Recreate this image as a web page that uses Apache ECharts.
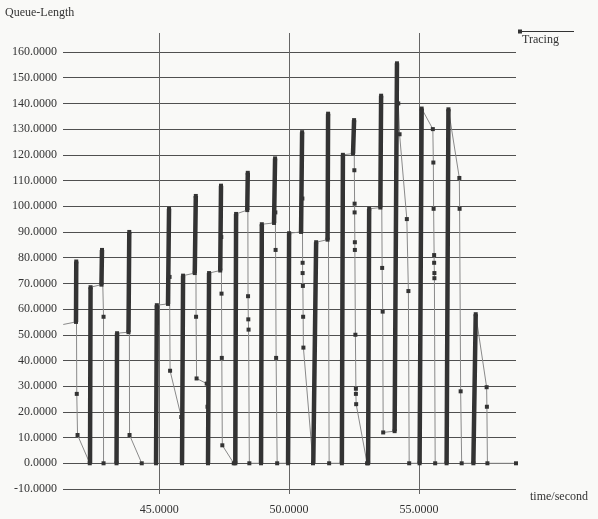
<!DOCTYPE html>
<html>
<head>
<meta charset="utf-8">
<script src="https://cdn.jsdelivr.net/npm/echarts@6/dist/echarts.min.js"></script>
<style>
html,body{margin:0;padding:0;background:#f9f9f7;}
#chart{width:598px;height:519px;}
</style>
</head>
<body>
<div id="chart"></div>
<script>
// Trace points (time in seconds, queue length)
const traceTime = [
  41.31, 41.80, 41.81, 41.83, 41.86, 42.33,
  42.36, 42.78, 42.80, 42.86, 42.86, 43.36,
  43.38, 43.82, 43.85, 43.86, 44.33, 44.88,
  44.91, 45.34, 45.38, 45.40, 45.42, 45.85, 45.88,
  45.92, 46.37, 46.41, 46.42, 46.44, 46.83, 46.86, 46.88,
  46.92, 47.35, 47.38, 47.39, 47.40, 47.41, 47.43, 47.87, 47.93,
  47.96, 48.39, 48.41, 48.42, 48.43, 48.44, 48.47, 48.92,
  48.95, 49.42, 49.46, 49.47, 49.48, 49.50, 49.54, 49.96,
  50.00, 50.46, 50.50, 50.51, 50.52, 50.52, 50.53, 50.54, 50.55, 50.92,
  51.04, 51.48, 51.50, 51.54, 52.03,
  52.07, 52.46, 52.50, 52.51, 52.52, 52.52, 52.53, 52.53, 52.55, 52.57, 52.57, 52.58, 53.00, 53.04,
  53.08, 53.51, 53.54, 53.58, 53.60, 53.62, 54.06,
  54.15, 54.20, 54.25, 54.53, 54.59, 54.62, 55.02,
  55.10, 55.53, 55.55, 55.56, 55.58, 55.58, 55.59, 55.59, 55.62, 56.06,
  56.13, 56.55, 56.56, 56.60, 56.64, 57.09,
  57.18, 57.60, 57.61, 57.63, 58.73
];
const traceQueue = [
  54, 55, 78.5, 27, 11, 0,
  68.5, 69.5, 83, 57, 0, 0,
  50.6, 51, 90, 11, 0, 0,
  61.5, 62, 99, 72.5, 36, 18, 0,
  73, 74, 104, 57, 33, 31, 22, 0,
  74, 75, 108, 88, 66, 41, 7, 0, 0,
  97, 98.5, 113, 65, 56, 52, 0, 0,
  93, 93.5, 118.6, 97.6, 83, 41, 0, 0,
  89.5, 90, 128.8, 103, 78, 74, 69, 57, 45, 0,
  86, 87, 136, 0, 0,
  120, 120.5, 133.5, 114, 101, 97.6, 86, 83, 50, 29, 27, 23, 0, 0,
  99, 99.5, 143, 76, 59, 12, 12.5,
  155.6, 140, 128, 95, 67, 0, 0,
  138, 130, 117, 99, 81, 78, 74, 72, 0, 0,
  137.7, 111, 99, 28, 0, 0,
  58, 29.6, 22, 0, 0
];
// Rapid bursts of arrivals (drawn as thick vertical runs)
const burstStartTime = [41.80, 42.34, 42.78, 43.36, 43.82, 44.88, 45.34, 45.88, 46.37, 46.88, 47.35, 47.93, 48.39, 48.92, 49.42, 49.96, 50.46, 50.93, 51.48, 52.03, 52.46, 53.04, 53.51, 54.06, 55.02, 56.06, 57.09];
const burstStartQueue = [55, 0, 69.5, 0, 51, 0, 62, 0, 74, 0, 75, 0, 98.5, 0, 93.5, 0, 90, 0, 87, 0, 120.5, 0, 99.5, 12.5, 0, 0, 0];
const burstEndTime = [41.81, 42.36, 42.80, 43.38, 43.85, 44.91, 45.38, 45.92, 46.41, 46.92, 47.38, 47.96, 48.41, 48.95, 49.46, 50.00, 50.50, 51.04, 51.50, 52.07, 52.50, 53.08, 53.54, 54.15, 55.10, 56.13, 57.18];
const burstEndQueue = [78.5, 68.5, 83, 50.6, 90, 61.5, 99, 73, 104, 74, 108, 97, 113, 93, 118.6, 89.5, 128.8, 86, 136, 120, 133.5, 99, 143, 155.6, 138, 137.7, 58];

const yTickStep = 10;
const xMin = 41.3, xMax = 58.73;

const traceData = traceTime.map((t, i) => {
  const item = {value: [t, traceQueue[i]]};
  if (i === 0) item.symbol = 'none';
  return item;
});
const burstData = [];
burstStartTime.forEach((t, i) => {
  burstData.push([t, burstStartQueue[i]]);
  burstData.push([burstEndTime[i], burstEndQueue[i]]);
  burstData.push(null);
});

const font = 'Liberation Serif';
const textCol = '#333';
const chart = echarts.init(document.getElementById('chart'), null, {renderer: 'canvas'});
chart.setOption({
  animation: false,
  backgroundColor: '#f9f9f7',
  title: {
    text: 'Queue-Length', left: 5, top: 7, padding: 0,
    textStyle: {fontFamily: font, fontSize: 12, fontWeight: 'normal', color: textCol}
  },
  legend: [
    {
      data: ['Tracing'], left: 518, top: 29, padding: 0,
      itemWidth: 56, itemHeight: 5,
      icon: 'path://M0,0H4V4H0Z M0,1.5H56V2.5H0Z',
      itemStyle: {color: '#333'},
      formatter: () => '',
      selectedMode: false
    },
    {
      data: ['Tracing'], left: 517, top: 34, padding: 0,
      itemWidth: 0, itemHeight: 12, icon: 'rect',
      itemStyle: {opacity: 0},
      textStyle: {fontFamily: font, fontSize: 12, color: textCol},
      selectedMode: false
    }
  ],
  grid: [
    {left: 63, right: 82, top: 52, bottom: 30},
    {left: 63, right: 82, top: 33, bottom: 25}
  ],
  xAxis: [
    {
      gridIndex: 0, type: 'value', min: xMin, max: xMax,
      axisLine: {show: false, onZero: false}, axisTick: {show: false}, axisLabel: {show: false},
      splitLine: {show: false},
      name: 'time/second', nameLocation: 'end', nameGap: 14,
      nameTextStyle: {fontFamily: font, fontSize: 12, color: textCol, verticalAlign: 'top', padding: [2, 0, 0, 0]}
    },
    {
      gridIndex: 1, type: 'value', min: xMin, max: xMax, splitNumber: 3,
      axisLine: {show: false, onZero: false}, axisTick: {show: false},
      axisLabel: {
        margin: 10, fontFamily: font, fontSize: 12, color: textCol,
        showMinLabel: false, showMaxLabel: false,
        formatter: v => v.toFixed(4)
      },
      splitLine: {show: true, showMinLine: false, showMaxLine: false, lineStyle: {color: '#666', width: 1}}
    }
  ],
  yAxis: [
    {
      gridIndex: 0, type: 'value', min: -10, max: 160, interval: yTickStep,
      axisLine: {show: false}, axisTick: {show: false},
      axisLabel: {margin: 6, fontFamily: font, fontSize: 12, color: textCol, formatter: v => v.toFixed(4)},
      splitLine: {show: true, lineStyle: {color: '#505050', width: 1}}
    },
    {
      gridIndex: 1, type: 'value', min: 0, max: 1, show: false, splitLine: {show: false}
    }
  ],
  series: [
    {
      name: 'Tracing', type: 'line', xAxisIndex: 0, yAxisIndex: 0,
      data: traceData, symbol: 'rect', symbolSize: 4, showAllSymbol: true,
      lineStyle: {color: '#8a8a8a', width: 1},
      itemStyle: {color: '#333'}, z: 3
    },
    {
      name: 'Tracing', type: 'line', xAxisIndex: 0, yAxisIndex: 0,
      data: burstData, connectNulls: false, symbol: 'none',
      lineStyle: {color: '#333', width: 4.5, cap: 'butt'},
      itemStyle: {color: '#333'}, z: 4
    }
  ]
});
</script>
</body>
</html>
